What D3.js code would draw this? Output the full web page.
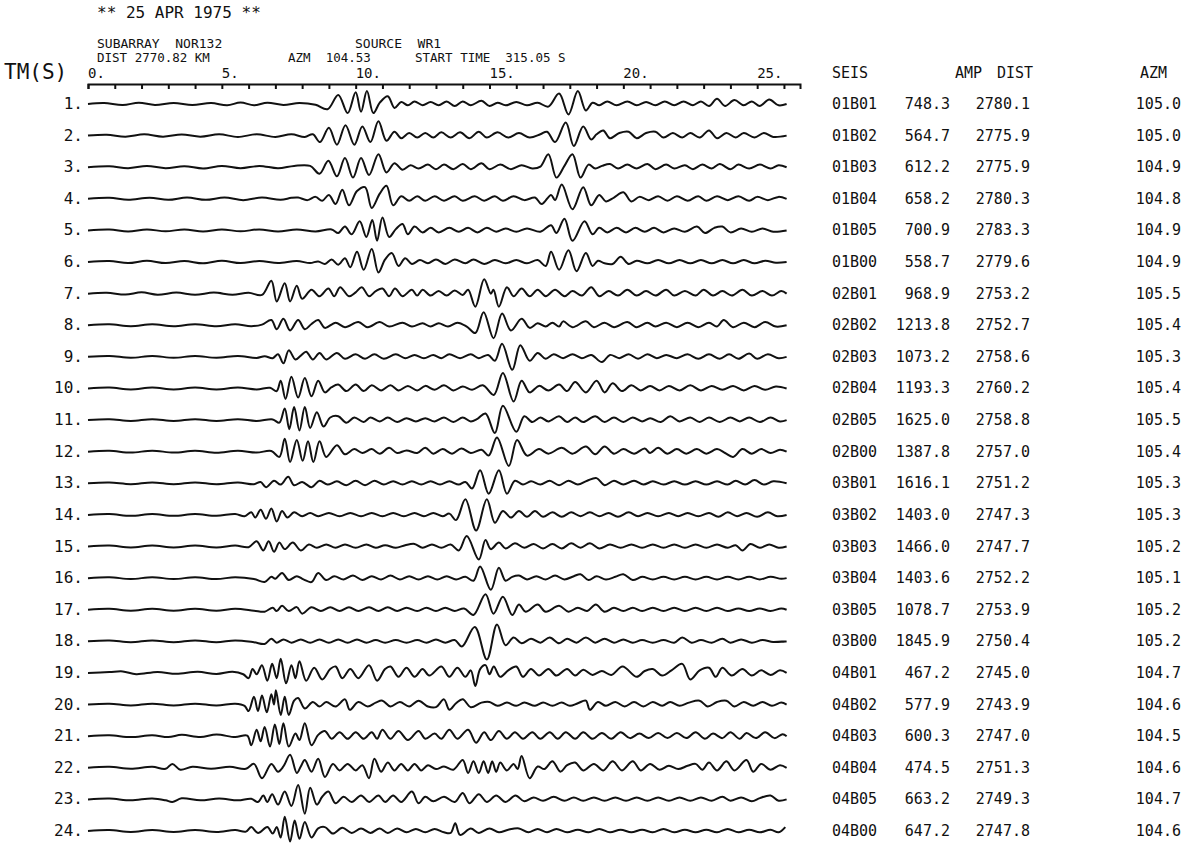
<!DOCTYPE html>
<html>
<head>
<meta charset="utf-8">
<script src="https://cdnjs.cloudflare.com/ajax/libs/d3/7.8.5/d3.min.js"></script>
<style>
  body { margin: 0; background: #fff; }
  text { font-family: "DejaVu Sans Mono", monospace; fill: #111; white-space: pre; }
</style>
</head>
<body>
<div id="chart"></div>
<script>
//table columns on the right
var stations = ["01B01","01B02","01B03","01B04","01B05","01B00",
  "02B01","02B02","02B03","02B04","02B05","02B00",
  "03B01","03B02","03B03","03B04","03B05","03B00",
  "04B01","04B02","04B03","04B04","04B05","04B00"];
var amps = [748.3,564.7,612.2,658.2,700.9,558.7,968.9,1213.8,1073.2,1193.3,1625.0,1387.8,
  1616.1,1403.0,1466.0,1403.6,1078.7,1845.9,467.2,577.9,600.3,474.5,663.2,647.2];
var dists = [2780.1,2775.9,2775.9,2780.3,2783.3,2779.6,2753.2,2752.7,2758.6,2760.2,2758.8,2757.0,
  2751.2,2747.3,2747.7,2752.2,2753.9,2750.4,2745.0,2743.9,2747.0,2751.3,2749.3,2747.8];
var azms = [105.0,105.0,104.9,104.8,104.9,104.9,105.5,105.4,105.3,105.4,105.5,105.4,
  105.3,105.3,105.2,105.1,105.2,105.2,104.7,104.6,104.5,104.6,104.7,104.6];

//time axis
var tickValues = [0, 5, 10, 15, 20, 25];
var tickLabels = ["0.", "5.", "10.", "15.", "20.", "25."];

//trace extrema: [time s, deflection]
var trace01 = [[0,0],[0.6,0.7],[1.3,-0.8],[1.9,1],[2.5,-0.7],[3.2,0.8],[3.9,-0.7],[4.6,0.8],[5.2,-1],[5.7,1.2],[6.2,-1],[6.7,1],[7.3,-0.7],[7.9,0.8],[8.5,-0.6],
  [8.95,-4],[9.35,7],[9.7,-7],[10.0,9],[10.2,-6],[10.42,10],[10.66,-7],[10.9,1],[11.2,6],[11.45,-3],[11.7,1.5],[11.95,-1],[12.2,2],[12.5,-1],
  [12.8,1.5],[13.1,-1],[13.4,2],[13.7,-1.5],[14.0,2],[14.3,-1],[14.7,2.5],[15.0,-1.5],[15.3,1],[15.6,-1],[16.0,1.5],[16.4,-1],[16.8,1],
  [17.2,-2],[17.6,8],[17.95,-8],[18.3,10],[18.6,-5],[18.85,1],[19.1,-1],[19.4,2],[19.75,-1],[20.15,2],[20.5,-1],[20.85,1.5],[21.2,-1],[21.55,2],[21.9,-1],[22.25,2],[22.6,-1],[22.9,2],[23.2,-1.5],[23.5,4],[23.8,-1.5],[24.15,3],[24.5,-1],[24.8,2],[25.1,-1.5],[25.45,3.5],[25.8,-1],[26.1,0]];
var trace02 = [[0,0],[0.7,0.7],[1.4,-0.8],[2.1,1],[2.8,-0.8],[3.5,0.8],[4.2,-0.8],[4.9,1],[5.6,-1],[6.3,1],[7.0,-1],[7.6,1],[8.1,-1],[8.4,1],
  [8.67,-5],[9.0,6],[9.3,-7],[9.62,8],[9.95,-7],[10.25,7],[10.55,-5],[10.85,11],[11.15,-4],[11.45,3],[11.7,-2],[12.0,2],[12.3,-1.5],
  [12.6,2],[12.9,-1.5],[13.2,2.5],[13.55,-1.5],[13.9,2.5],[14.25,-2],[14.6,3],[14.9,-1.5],[15.3,2.5],[15.7,-1.5],[16.1,2],[16.5,-1.5],[16.9,1],[17.15,3],[17.45,-5],[17.85,10],[18.15,-8],[18.5,7],[18.8,-3],[19.0,1],[19.25,4],[19.5,-2],[19.85,2],[20.2,3],[20.5,-2],[20.85,2],[21.2,3],[21.5,-1.5],[21.85,2],[22.2,-1.5],[22.5,2],[22.85,-1.5],[23.2,4],[23.5,-2],[23.85,2],[24.2,-1.5],[24.5,2],[24.9,-1.5],[25.25,2],[25.6,-1],[26.1,0]];
var trace03 = [[0,0],[0.8,0.7],[1.5,-0.8],[2.2,1],[2.9,-0.7],[3.6,0.8],[4.3,-1],[5.0,1],[5.7,-0.8],[6.4,1],[7.1,-0.8],[7.7,1],[8.3,1],
  [8.65,-5],[8.98,5],[9.3,-7],[9.6,7],[9.9,-8],[10.2,7],[10.5,-6],[10.85,10],[11.15,-4],[11.45,3],[11.75,-2],[12.05,1.5],[12.35,-1],
  [12.7,2],[13.0,-1.5],[13.3,2],[13.65,-1.5],[14.0,2.5],[14.3,-1.5],[14.7,3],[15.0,-1.5],[15.4,2],[15.8,-1.5],[16.2,1.5],[16.6,-1],[16.9,0.5],[17.2,10],[17.5,-8],[17.8,1],[18.1,10],[18.4,-8],[18.7,2],[18.95,-1],[19.2,1],[19.5,2.5],[19.8,-1],[20.15,2],[20.5,-1],[20.9,2.5],[21.2,-1.5],[21.6,2],[21.9,-1],[22.3,1.5],[22.6,-1.5],[22.95,2],[23.3,-1],[23.6,2.5],[24.0,-1.5],[24.3,2],[24.7,-1],[25.1,2],[25.5,-1],[25.8,1.5],[26.1,0]];
var trace04 = [[0,0],[0.8,0.8],[1.5,-0.8],[2.3,0.8],[3.0,-0.8],[3.7,1],[4.4,-0.8],[5.1,1],[5.8,-1],[6.5,1],[7.2,-0.8],[7.6,0.8],
  [7.85,1],[8.2,-1],[8.5,1.5],[8.75,-1.5],[9.0,3],[9.25,-4],[9.5,7],[9.75,-5],[10.05,6],[10.35,9],[10.6,-7],[10.9,4],[11.15,10],[11.4,-5],[11.7,2],[12.0,-1.5],[12.3,2],
  [12.6,-1.5],[12.95,2],[13.3,-1.5],[13.7,2],[14.0,-1.5],[14.45,2],[14.8,-1.5],[15.2,2],[15.5,-1.5],[15.9,2],[16.3,-1],[16.7,1],[16.95,-4],[17.3,3],[17.45,-1],[17.7,11],[18.1,-8],[18.5,9],[18.8,-5],[19.1,3],[19.35,-2],[19.65,1],[20.0,5],[20.3,-2],[20.6,1.5],[20.95,-1],[21.3,2],[21.65,-1.5],[22.0,2],[22.4,-1.5],[22.8,2],[23.1,-1.5],[23.5,2],[23.9,-1],[24.3,2],[24.7,-1.5],[25.0,1.5],[25.4,-1],[25.8,1.5],[26.1,0]];
var trace05 = [[0,0],[0.8,0.7],[1.5,-0.8],[2.2,0.8],[2.9,-0.7],[3.6,0.8],[4.3,-0.8],[5.0,0.8],[5.7,-0.7],[6.4,0.8],[7.1,-0.8],[7.8,0.8],[8.5,-0.8],[9.1,0.8],
  [9.35,-2],[9.6,3],[9.85,-3],[10.15,7],[10.4,-5],[10.62,8],[10.8,-8],[11.0,10],[11.25,-5],[11.5,1],[11.75,5],[11.95,-3],[12.2,3],[12.5,-1.5],
  [12.8,2],[13.1,-1.5],[13.5,2],[13.85,-1],[14.2,2],[14.55,-1.5],[14.9,2],[15.25,-1],[15.6,1.5],[16.0,-1],[16.4,1.5],[16.9,-1],[17.3,4],[17.5,-2],[17.8,9],[18.1,-8],[18.55,7],[18.85,-3],[19.1,2],[19.4,-1.5],[19.75,2],[20.1,-1.5],[20.45,2],[20.8,-1],[21.15,2],[21.5,-1.5],[21.9,1.5],[22.3,-1],[22.75,3],[23.05,-2],[23.4,2],[23.7,3],[24.0,-1.5],[24.4,1.5],[24.8,-1],[25.2,1.5],[25.6,-1],[26.1,0]];
var trace06 = [[0,0],[0.8,0.8],[1.5,-0.8],[2.2,1],[2.9,-0.8],[3.6,0.8],[4.3,-1],[5.0,1],[5.7,-0.8],[6.4,0.8],[7.1,-0.8],[7.8,0.8],[8.3,-0.8],
  [8.6,0.5],[8.85,-1.5],[9.1,2],[9.35,-2],[9.6,3],[9.8,-4],[10.05,8],[10.3,-6],[10.6,10],[10.85,-8],[11.1,2],[11.35,7],[11.6,-3],[11.85,3],[12.1,-1.5],[12.4,1.5],
  [12.7,-1],[13.0,2],[13.35,-1.5],[13.7,2],[14.1,-1],[14.4,2],[14.8,-1.5],[15.2,1.5],[15.6,-1],[16.0,1.5],[16.4,-1],[16.8,1.5],[17.1,-3],[17.3,8],[17.6,-6],[17.95,9],[18.25,-7],[18.6,7],[18.85,-3],[19.05,1],[19.3,-1],[19.6,-1.5],[19.9,4],[20.2,-1.5],[20.5,1],[20.9,-1],[21.3,1.5],[21.7,-1],[22.1,1.5],[22.5,-1],[22.9,1.5],[23.3,-1],[23.7,1.5],[24.1,-1],[24.5,1.5],[24.9,-1],[25.3,1],[25.7,-0.5],[26.1,0]];
var trace07 = [[0,0],[0.7,0.7],[1.4,-0.7],[2.0,1],[2.6,-0.8],[3.3,0.8],[4.0,-0.8],[4.7,0.8],[5.4,-0.8],[6.0,0.7],[6.5,-1],
  [6.85,10],[7.05,-6],[7.35,8],[7.55,-6],[7.8,6],[8.0,-4],[8.35,3],[8.65,-2],[8.98,4],[9.2,-2],[9.42,5],[9.75,-2],[10.0,1],[10.23,5],[10.5,-2],[10.75,2],[11.0,4],[11.25,-2],[11.47,4],[11.75,-2],[12.1,3],[12.3,-1.5],[12.5,3],
  [12.8,-1.5],[13.1,2],[13.4,-1.5],[13.7,2.5],[14.0,-1],[14.2,3],[14.47,-10],[14.8,11],[15.05,0],[15.15,3],[15.35,-10],[15.65,5],[15.9,-2],[16.2,4],[16.5,-2],[16.8,3],[17.1,-2],[17.45,3],[17.8,-2],[18.1,2],[18.45,-1.5],[18.8,5],[19.1,-2],[19.45,2],[19.8,-1.5],[20.15,3],[20.5,-1.5],[20.85,2],[21.2,-1.5],[21.6,3],[21.9,-1.5],[22.3,2],[22.7,-1.5],[23.0,3],[23.35,-1.5],[23.7,2],[24.05,-1.5],[24.45,3],[24.8,-1.5],[25.2,2],[25.55,-1.5],[25.9,2],[26.1,0]];
var trace08 = [[0,0],[0.8,0.7],[1.6,-0.7],[2.4,0.7],[3.2,-0.7],[4.0,0.8],[4.8,-0.7],[5.5,0.7],[6.1,-0.7],[6.5,0.5],
  [6.85,4],[7.05,-3],[7.3,5],[7.55,-4],[7.85,4],[8.1,-3],[8.35,1],[8.6,4],[8.85,-2],[9.25,2],[9.6,-1.5],[10.1,2.5],[10.45,-1.5],[10.9,2.5],[11.25,-1],[11.75,2],[12.1,-1],[12.5,1.5],
  [12.8,-1],[13.1,1.5],[13.45,-1],[13.8,2],[14.15,-1],[14.47,-6],[14.78,10],[15.15,-10],[15.47,9],[15.8,-4],[16.2,5],[16.5,-2],[16.8,1.5],[17.1,-1],[17.35,2],[17.6,-1],[17.75,3],[18.1,-1.5],[18.6,3],[18.9,-1.5],[19.3,2],[19.65,-1.5],[20.15,2.5],[20.5,-1.5],[20.9,2],[21.2,-1],[21.6,2],[22.0,-1.5],[22.4,2],[22.8,-1.5],[23.2,2],[23.5,-1],[23.75,4],[24.1,-1.5],[24.5,2],[24.9,-1.5],[25.3,2.5],[25.7,-1],[26.1,0]];
var trace09 = [[0,0],[0.8,0.7],[1.6,-0.7],[2.4,0.7],[3.2,-0.7],[4.0,0.7],[4.8,-0.7],[5.6,0.7],[6.3,-0.8],[6.6,0.5],
  [6.9,-1],[7.1,2],[7.3,-5],[7.5,5],[7.75,-2],[7.95,1],[8.15,4],[8.4,-2],[8.65,3],[8.9,-2],[9.3,3],[9.6,-1.5],[10.0,2],[10.35,-1.5],[10.7,2],[11.05,-1.5],[11.5,2],[11.85,-1],[12.2,1.5],
  [12.55,-1],[12.9,1.5],[13.2,-1],[13.5,2],[13.9,-1],[14.3,2],[14.6,-1],[14.95,1.5],[15.2,-3],[15.47,10],[15.85,-10],[16.15,9],[16.5,-3],[16.8,3],[17.1,-1.5],[17.4,2],[17.75,-1],[18.1,2],[18.45,-1],[18.8,1.5],[19.2,-4],[19.5,1.5],[19.85,-1],[20.2,2],[20.55,-1.5],[20.9,2],[21.25,-1],[21.6,1.5],[22.0,-1],[22.4,2],[22.8,-1.5],[23.2,2],[23.6,-1.5],[23.95,2],[24.3,-1.5],[24.7,2.5],[25.0,-1.5],[25.4,2],[25.8,-1],[26.1,0]];
var trace10 = [[0,0],[0.8,0.7],[1.6,-0.7],[2.4,0.7],[3.2,-0.7],[4.0,0.7],[4.8,-0.7],[5.6,0.7],[6.3,-0.7],[6.8,0.5],
  [7.05,-2],[7.2,6],[7.38,-8],[7.6,9],[7.85,-7],[8.1,8],[8.35,-6],[8.6,6],[8.85,-3],[9.1,1],[9.35,3],[9.65,-2],[10.0,3],[10.3,-2],[10.6,2.5],[10.95,-1.5],[11.3,2.5],[11.6,-1.5],[11.95,2],[12.3,-1.5],
  [12.6,2],[12.95,-1],[13.3,2.5],[13.65,-1.5],[14.0,1.5],[14.35,-1],[14.75,2.5],[15.16,-5],[15.5,12],[15.9,-10],[16.2,6],[16.5,-3],[16.85,2],[17.2,-1.5],[17.6,3],[17.9,-2],[18.2,5],[18.6,-3],[19.0,6],[19.3,-3],[19.6,4],[19.95,-2],[20.3,2.5],[20.65,-1.5],[21.0,2],[21.35,-1.5],[21.7,2],[22.1,-1.5],[22.5,2.5],[22.9,-1.5],[23.3,2],[23.7,-1],[24.1,2],[24.5,-1.5],[24.9,2],[25.3,-1],[25.7,1.5],[26.1,0]];
var trace11 = [[0,0],[0.8,0.7],[1.6,-0.7],[2.4,0.7],[3.2,-0.7],[4.0,0.7],[4.8,-0.7],[5.6,0.7],[6.3,-0.7],[6.9,0.5],
  [7.15,-2],[7.35,9],[7.52,-7],[7.7,10],[7.9,-8],[8.1,10],[8.3,-6],[8.55,6],[8.8,-5],[9.05,2],[9.35,3],[9.65,-2],[9.95,2],[10.3,-1.5],[10.55,2],[10.9,-1],[11.2,2],[11.55,-1.5],[11.9,1.5],[12.25,-1],
  [12.6,1.5],[12.95,-1],[13.3,2],[13.65,-1.5],[14.0,2],[14.3,-1],[14.55,1],[14.85,5],[15.2,-10],[15.5,11],[16.0,-9],[16.3,3],[16.6,-1.5],[16.9,2],[17.2,-1],[17.6,3],[17.9,-1.5],[18.2,2],[18.5,-1.5],[18.95,3],[19.3,-1.5],[19.65,2],[20.0,-1.5],[20.35,2],[20.7,-1],[21.0,1.5],[21.4,-1.5],[21.75,3],[22.1,-1],[22.5,2],[22.85,-1.5],[23.2,2],[23.6,-1.5],[24.0,2],[24.35,-1],[24.7,2],[25.1,-1.5],[25.5,2],[25.85,-1],[26.1,0]];
var trace12 = [[0,0],[0.8,0.7],[1.6,-0.7],[2.4,0.8],[3.2,-0.7],[4.0,0.7],[4.8,-0.8],[5.6,0.7],[6.3,-0.7],[6.85,0.5],
  [7.15,-4],[7.35,10],[7.55,-8],[7.8,9],[8.02,-7],[8.22,8],[8.42,-8],[8.65,8],[8.9,-4],[9.3,5],[9.6,-2],[9.95,2],[10.25,-1],[10.6,2],[10.9,-1.5],[11.25,3],[11.55,-1],[11.9,1],[12.3,-1],[12.6,3],
  [12.9,-1.5],[13.25,2],[13.6,-1.5],[13.95,2.5],[14.3,-1],[14.7,1.5],[14.97,-3],[15.28,11],[15.72,-11],[16.03,9],[16.4,-3],[16.85,2],[17.2,-1.5],[17.7,3],[18.1,-1.5],[18.6,4],[18.95,-2],[19.3,4],[19.65,-1.5],[20.0,2],[20.4,-1.5],[20.8,2.5],[21.0,-1],[21.3,3],[21.65,-1.5],[22.0,2],[22.35,-1.5],[22.75,2],[23.1,-1.5],[23.5,2],[23.8,-1],[24.1,-4],[24.45,2],[24.8,-1.5],[25.15,2],[25.5,-1],[25.85,1.5],[26.1,0]];
var trace13 = [[0,0],[0.8,0.6],[1.6,-0.7],[2.4,0.7],[3.2,-0.7],[4.0,0.7],[4.8,-0.7],[5.6,0.7],[6.2,-0.7],
  [6.45,1],[6.65,-3],[6.95,2],[7.2,-1],[7.48,5],[7.7,-1.5],[8.0,1],[8.35,-3],[8.65,2],[8.95,-1],[9.3,1.5],[9.65,-1.5],[10.0,2],[10.35,-1.5],[10.7,2],[11.05,-1],[11.4,1.5],[11.75,-1],[12.1,1.5],[12.45,-1],
  [12.8,1.5],[13.15,-1],[13.5,1.5],[13.85,-1],[14.1,1],[14.35,-4],[14.65,10],[14.97,-8],[15.35,10],[15.65,-8],[15.95,2],[16.25,-1],[16.55,1.5],[16.9,-1],[17.25,2],[17.6,-1.5],[17.95,2],[18.3,-1],[18.65,2],[19.0,4],[19.3,-1.5],[19.65,2],[20.0,-1],[20.4,2],[20.75,-1],[21.1,1.5],[21.5,-1],[21.9,1.5],[22.3,-1],[22.7,1.5],[23.1,-1],[23.5,1.5],[23.9,-1],[24.2,2],[24.55,-1],[24.9,2.5],[25.25,-1],[25.6,1.5],[26.1,0]];
var trace14 = [[0,0],[0.8,0.7],[1.6,-0.7],[2.4,0.7],[3.2,-0.7],[4.0,0.7],[4.8,-0.7],[5.5,0.7],
  [5.85,-1],[6.1,2],[6.25,-2],[6.45,4],[6.65,-3],[6.85,5],[7.05,-5],[7.25,3],[7.45,-2],[7.7,2],[8.0,-1],[8.3,1.5],[8.6,-1],[9.0,1.5],[9.4,-1],[9.8,1.5],[10.2,-1],[10.6,1.5],[11.0,-1],[11.4,1.5],[11.8,-1],[12.2,1.5],
  [12.55,-1],[12.9,1.5],[13.25,-1],[13.5,1],[13.75,-4],[14.1,12],[14.5,-12],[14.9,12],[15.2,-6],[15.5,3],[15.8,-2],[16.1,3],[16.4,-1.5],[16.7,3],[17.0,-1.5],[17.35,2],[17.7,-1.5],[18.05,2],[18.4,-1],[18.75,2],[19.1,-1],[19.45,1.5],[19.8,-1.5],[20.2,2],[20.55,-1],[20.9,1.5],[21.3,-1],[21.7,1.5],[22.05,-1],[22.4,1.5],[22.8,-1],[23.2,1.5],[23.55,-1.5],[23.9,2],[24.25,-1],[24.6,1.5],[25.0,-1.5],[25.4,2],[25.75,-1],[26.1,0]];
var trace15 = [[0,0],[0.8,0.7],[1.6,-0.7],[2.4,0.7],[3.2,-0.7],[4.0,0.7],[4.8,-0.7],[5.5,0.7],
  [6.0,-0.5],[6.3,4],[6.55,-3],[6.75,4],[6.95,-4],[7.15,3],[7.35,-2],[7.65,3],[7.95,-3],[8.25,1.5],[8.55,-1],[8.9,1.5],[9.25,-1],[9.6,1.5],[10.0,-1],[10.4,1.5],[10.75,-1],[11.1,1],[11.5,-1],[11.85,1],[12.2,2],
  [12.5,-1],[12.85,1.5],[13.2,-1],[13.55,1.5],[13.85,-3],[14.15,8],[14.6,-10],[14.85,5],[15.05,-2],[15.35,3],[15.6,-1.5],[15.95,2.5],[16.3,-1],[16.65,2],[17.0,-1.5],[17.35,2],[17.7,-1.5],[18.05,2.5],[18.4,-1],[18.75,2.5],[19.1,-1.5],[19.5,1.5],[19.9,-1],[20.3,1.5],[20.7,-1],[21.1,1.5],[21.5,-1],[21.9,1.5],[22.3,-1],[22.7,1.5],[23.1,-1],[23.5,1.5],[23.9,-1],[24.2,1],[24.45,-3],[24.75,2],[25.1,-1],[25.45,1.5],[25.8,-1],[26.1,0]];
var trace16 = [[0,0],[0.8,0.7],[1.6,-0.7],[2.4,0.7],[3.2,-0.7],[4.0,0.7],[4.8,-0.7],[5.5,0.7],[6.2,-0.7],
  [6.6,-3],[6.85,1],[7.0,-0.5],[7.25,4],[7.5,-1.5],[7.8,1.5],[8.05,-1],[8.35,-3],[8.6,4],[8.9,-1.5],[9.2,1.5],[9.55,-1],[9.9,2],[10.25,-1.5],[10.6,1.5],[10.95,-1],[11.3,2],[11.65,-1],[12.0,1.5],[12.35,-1],
  [12.7,1.5],[13.05,-1],[13.4,1.5],[13.75,-1],[14.1,1],[14.4,-2],[14.65,9],[15.05,-9],[15.35,8],[15.6,-2],[15.85,1],[16.1,2],[16.4,-1],[16.75,1.5],[17.1,-1],[17.45,2],[17.8,-1],[18.15,1.5],[18.4,3],[18.7,-1.5],[19.0,1.5],[19.35,-1],[19.7,1],[20.0,3],[20.35,-1.5],[20.7,1],[21.1,-1],[21.5,1],[21.9,-1],[22.3,1],[22.7,-1],[23.1,1],[23.5,-1],[23.9,1],[24.3,-1],[24.7,1],[25.1,-1],[25.5,1],[25.9,-0.5],[26.1,0]];
var trace17 = [[0,0],[0.8,0.7],[1.6,-0.7],[2.4,0.7],[3.2,-0.7],[4.0,0.7],[4.8,-0.7],[5.5,0.7],[6.2,-0.7],
  [6.6,-1.5],[6.9,1.5],[7.05,-1],[7.25,3],[7.5,-1],[7.8,2],[8.0,-3],[8.35,2],[8.7,-1],[9.05,2],[9.4,-1],[9.75,2],[10.1,-1],[10.5,2],[10.85,-1],[11.2,2],[11.55,-1],[11.9,1.5],[12.3,-1],
  [12.65,1.5],[13.0,-1],[13.35,1.5],[13.7,-1],[14.05,1],[14.4,-4],[14.85,12],[15.15,-3],[15.5,10],[15.85,-4],[16.1,4],[16.35,-1.5],[16.8,4],[17.1,-1.5],[17.6,3],[17.95,-1.5],[18.3,1.5],[18.65,-1],[18.97,4],[19.3,-1.5],[19.65,1.5],[20.0,-1],[20.35,1.5],[20.7,-1],[21.1,1.5],[21.5,-1],[21.9,1.5],[22.3,-1],[22.7,1.5],[23.1,-1],[23.5,1.5],[23.9,-1],[24.3,1],[24.7,-1],[25.1,1],[25.5,-1],[25.9,1],[26.1,0]];
var trace18 = [[0,0],[0.8,0.7],[1.6,-0.7],[2.4,0.7],[3.2,-0.7],[4.0,0.7],[4.8,-0.7],[5.5,0.7],[6.2,-0.7],
  [6.6,-2],[6.85,2],[7.05,-1],[7.3,1.5],[7.6,-1],[7.95,1.5],[8.3,-1],[8.65,1.5],[9.0,-1],[9.35,1.5],[9.7,-1],[10.05,1.5],[10.4,-1],[10.75,1],[11.1,-1],[11.5,1],[11.9,-1],[12.3,1],
  [12.65,-1],[13.0,1.5],[13.35,-1],[13.7,1],[13.97,-4],[14.45,11],[14.9,-14],[15.28,13],[15.6,-3],[15.9,3],[16.2,-1.5],[16.55,2],[16.9,-1],[17.25,3],[17.6,-1.5],[17.9,2],[18.25,-1],[18.6,3],[18.95,-1],[19.3,2],[19.65,-1],[20.0,1.5],[20.35,-1],[20.7,1],[21.1,-1],[21.5,1],[21.9,-1],[22.2,3],[22.55,-1],[22.9,1],[23.3,-1],[23.7,2],[24.0,-1],[24.4,1.5],[24.8,-1],[25.2,1],[25.6,-0.5],[26.1,0]];
var trace19 = [[0,0],[0.8,0.7],[1.3,1.2],[1.8,-0.9],[2.6,0.8],[3.3,-0.7],[4.1,0.9],[4.8,-0.8],[5.4,0.9],[5.8,-1],
  [6.0,-4],[6.15,3],[6.3,-1],[6.5,6],[6.7,-6],[6.88,7],[7.05,-4],[7.2,11],[7.4,-8],[7.6,6],[7.75,-4],[7.9,9],[8.15,-6],[8.45,4],[8.75,-5],[9.05,3],[9.25,5],[9.5,-4],[9.8,3],[10.1,-4],[10.5,6],[10.8,-6],[11.1,3],[11.3,5],[11.6,-3],[11.9,4],[12.2,-3],[12.5,3],
  [12.75,-2],[13.2,5],[13.5,-3],[13.8,4],[14.1,-3],[14.3,2],[14.47,-10],[14.65,3],[14.85,6],[15.0,-1],[15.16,5],[15.4,-3],[15.7,2],[16.0,5],[16.25,-3],[16.55,3],[16.85,-2],[17.2,3],[17.5,-2],[17.9,3],[18.2,-2],[18.5,2.5],[18.85,-1.5],[19.2,1.5],[19.55,-1.5],[19.97,5],[20.5,-3],[20.8,1.5],[21.1,3],[21.45,-2],[21.8,2],[22.2,7],[22.5,-5],[22.85,2],[23.2,4],[23.45,-3],[23.7,4],[24.05,-2],[24.45,3],[24.8,-2],[25.15,2],[25.5,-1.5],[25.85,2],[26.1,0]];
var trace20 = [[0,0],[0.8,0.7],[1.6,-0.7],[2.4,0.7],[3.2,-0.7],[4.0,0.7],[4.8,-0.7],[5.5,0.7],
  [5.85,-1],[6.0,-5],[6.2,6],[6.35,-5],[6.5,7],[6.68,-6],[6.85,8],[6.95,0],[7.02,11],[7.2,-8],[7.35,6],[7.5,-8],[7.7,3],[7.85,5],[8.1,-3],[8.4,2],[8.65,-1.5],[8.9,2],[9.25,-1.5],[9.6,4],[9.78,-4],[10.1,2],[10.45,-1.5],[10.75,1.5],[11.0,3],[11.3,-1.5],[11.65,2],[12.0,-1.5],[12.35,3],
  [12.7,-1.5],[13.0,-2],[13.3,4],[13.5,-4],[13.75,1],[14.0,4],[14.3,-2],[14.7,1.5],[15.0,2],[15.3,-1],[15.65,1.5],[16.0,-1],[16.3,1.5],[16.7,-1],[17.0,1.5],[17.35,-1],[17.7,1.5],[18.0,-1],[18.3,1],[18.6,3],[18.75,-4],[19.05,2],[19.35,-1],[19.7,2],[20.05,-1.5],[20.4,2],[20.75,-1.5],[21.1,2],[21.45,-1],[21.75,2],[22.1,-1],[22.45,1.5],[22.85,3],[23.15,-1.5],[23.5,2],[23.85,3],[24.15,-1.5],[24.5,2],[24.85,-1],[25.2,2],[25.55,-1],[25.9,1.5],[26.1,0]];
var trace21 = [[0,0],[0.8,0.7],[1.6,-0.7],[2.4,0.7],[3.0,-0.7],[3.5,1],[4.2,-0.7],[4.8,1.2],[5.5,-0.7],[5.95,0.5],
  [6.1,-7],[6.3,5],[6.45,-4],[6.6,7],[6.8,-8],[6.98,9],[7.15,-6],[7.3,10],[7.5,-8],[7.75,2],[7.9,-3],[8.1,10],[8.35,-7],[8.6,1],[8.85,4],[9.1,-2],[9.4,3],[9.7,-2],[10.0,3],[10.3,-2],[10.6,3],[10.8,-2],[11.0,5],[11.3,-2],[11.6,4],[11.95,-3],[12.35,4],
  [12.6,-2],[12.95,2],[13.2,-2],[13.5,5],[13.8,-2],[14.2,5],[14.5,-5],[14.8,3],[15.05,-3],[15.35,4],[15.65,-2],[15.95,3],[16.25,-2],[16.6,3],[16.9,-2],[17.25,3],[17.55,-2],[17.85,3],[18.2,-2],[18.5,3],[18.85,-2],[19.2,2.5],[19.55,-2],[19.9,3],[20.25,-1.5],[20.6,2],[20.95,-1.5],[21.3,2.5],[21.65,-1.5],[22.0,2.5],[22.35,-1.5],[22.7,3],[23.05,-2],[23.35,2],[23.7,-1.5],[24.0,3],[24.35,-2],[24.6,2.5],[24.95,-1.5],[25.3,3],[25.65,-1.5],[25.95,1.5],[26.1,0]];
var trace22 = [[0,0],[0.8,0.7],[1.6,-0.7],[2.4,0.7],[2.9,-0.8],[3.15,3],[3.45,-1.5],[3.9,0.8],[4.6,-0.7],[5.3,0.8],[5.9,-0.8],
  [6.2,3],[6.5,-8],[6.85,3],[7.1,-3],[7.3,1],[7.55,10],[7.8,-4],[7.95,1],[8.1,6],[8.35,-3],[8.6,7],[8.85,-7],[9.15,3],[9.4,-2],[9.7,3],[10.0,-2],[10.25,2],[10.5,-8],[10.7,7],[10.95,-3],[11.2,4],[11.45,-2],[11.7,3],[11.95,-2],[12.2,3],[12.45,-2],
  [12.7,2],[13.0,-1],[13.3,1],[13.65,-1.5],[14.0,6],[14.2,-4],[14.4,5],[14.6,-4],[14.78,5],[14.95,-4],[15.1,5],[15.25,-3],[15.4,4],[15.65,-2],[15.9,3],[16.05,-1],[16.2,9],[16.5,-8],[16.8,1],[17.05,-1],[17.35,5],[17.65,-3],[17.9,2],[18.2,4],[18.5,-2],[18.9,3],[19.25,-2],[19.6,5],[19.95,-2],[20.35,5],[20.65,-2],[21.0,3],[21.35,-1.5],[21.7,1.5],[22.05,-1],[22.4,1.5],[22.7,3],[22.95,-1.5],[23.2,4],[23.5,-2],[23.85,5],[24.15,-2],[24.6,6],[24.85,-3],[25.15,3],[25.5,-1.5],[25.85,2],[26.1,0]];
var trace23 = [[0,0],[0.8,0.7],[1.6,-0.7],[2.4,0.7],[2.9,-0.7],[3.15,-2],[3.5,0.8],[4.2,-0.7],[4.9,0.7],[5.6,-0.7],[6.1,0.5],
  [6.35,-2],[6.55,3],[6.7,-2],[6.88,4],[7.1,-4],[7.35,6],[7.6,-5],[7.85,11],[8.1,-11],[8.3,9],[8.55,-4],[8.75,2],[8.98,6],[9.25,-3],[9.55,2],[9.85,-2],[10.2,3],[10.5,-2],[10.85,3],[11.1,-2],[11.4,3],[11.7,-2],[12.1,6],[12.35,-3],
  [12.6,2],[12.9,-1.5],[13.3,2],[13.7,-2],[14.0,5],[14.25,-3],[14.6,4],[14.9,-2],[15.25,3],[15.6,-2],[15.97,3],[16.3,-1.5],[16.65,1.5],[17.0,-1],[17.4,2],[17.8,-1],[18.15,1.5],[18.5,-1],[18.9,1.5],[19.3,-1],[19.7,1.5],[20.1,-1],[20.5,1.5],[20.9,-1],[21.3,1.5],[21.7,-1],[22.1,1.5],[22.5,-1],[22.9,1.5],[23.3,-1],[23.7,2],[24.0,-1],[24.4,1.5],[24.8,-1.5],[25.1,1],[25.5,3],[25.8,-1],[26.1,0]];
var trace24 = [[0,0],[0.8,0.7],[1.6,-0.7],[2.4,0.7],[3.2,-0.7],[4.0,0.7],[4.8,-0.7],[5.5,0.7],[5.9,-0.5],
  [6.1,3],[6.35,-1.5],[6.7,3],[6.9,-2],[7.05,3],[7.2,-5],[7.35,11],[7.55,-8],[7.72,8],[7.9,-6],[8.1,7],[8.35,-5],[8.6,2],[8.85,3],[9.15,-2],[9.5,2.5],[9.85,-1.5],[10.2,2],[10.55,-1.5],[10.9,2],[11.2,-1.5],[11.55,2],[11.9,-1],[12.25,1.5],
  [12.6,-1],[12.95,1.5],[13.3,-1],[13.55,-1.5],[13.72,6],[13.9,-3],[14.3,2],[14.6,-1.5],[15.0,2],[15.35,-1],[15.7,1],[16.1,2],[16.45,-1],[16.8,1.5],[17.15,-1],[17.5,1.5],[17.9,-1],[18.3,1],[18.7,-1],[19.1,1.5],[19.5,-1],[19.9,1],[20.3,-1],[20.7,1],[21.1,-1],[21.5,1.5],[21.9,-1],[22.3,1],[22.7,-1],[23.1,1],[23.5,-1],[23.9,1.5],[24.3,-1],[24.7,1],[25.1,-1],[25.5,1],[25.8,-1],[26.05,3]];

var traces = [trace01,trace02,trace03,trace04,trace05,trace06,trace07,trace08,trace09,trace10,trace11,trace12,
  trace13,trace14,trace15,trace16,trace17,trace18,trace19,trace20,trace21,trace22,trace23,trace24];

var width = 1186, height = 847;
var svg = d3.select("#chart").append("svg")
  .attr("width", width)
  .attr("height", height);

//scales
var x = d3.scaleLinear().domain([0, 26.6]).range([88, 800]);
var rowY = d3.scaleLinear().domain([1, 24]).range([104, 831]);
var defl = d3.scaleLinear().domain([-10, 10]).range([13, -13]);
var axisY = 84;

//header lines
svg.append("text").text("** 25 APR 1975 **")
  .attr("x", 97).attr("y", 18)
  .style("font-size", "16px");
svg.append("text").text("SUBARRAY  NOR132")
  .attr("x", 97).attr("y", 48).style("font-size", "13px");
svg.append("text").text("SOURCE  WR1")
  .attr("x", 355).attr("y", 48).style("font-size", "13px");
svg.append("text").text("DIST 2770.82 KM")
  .attr("x", 97).attr("y", 62).style("font-size", "12.5px");
svg.append("text").text("AZM  104.53")
  .attr("x", 288).attr("y", 62).style("font-size", "12.5px");
svg.append("text").text("START TIME  315.05 S")
  .attr("x", 415).attr("y", 62).style("font-size", "12.5px");
svg.append("text").text("TM(S)")
  .attr("x", 4).attr("y", 79).style("font-size", "21px");

//time axis along the top
var axis = d3.axisBottom(x)
  .tickValues(d3.range(0, 27))
  .tickSize(5)
  .tickSizeOuter(5)
  .tickFormat("");
var gAxis = svg.append("g")
  .attr("transform", "translate(0," + axisY + ")")
  .call(axis);
gAxis.select(".domain").attr("stroke", "#111").attr("stroke-width", 2);
gAxis.selectAll(".tick line").attr("stroke", "#111").attr("stroke-width", 2);

svg.selectAll(".tlabel")
  .data(tickValues)
  .enter().append("text")
  .attr("class", "tlabel")
  .text(function(d, i) { return tickLabels[i]; })
  .attr("x", function(d) { return x(d); })
  .attr("y", 78)
  .style("font-size", "14px");

//row numbers
svg.selectAll(".rlabel")
  .data(traces)
  .enter().append("text")
  .attr("class", "rlabel")
  .text(function(d, i) { return (i + 1) + "."; })
  .attr("x", 83)
  .attr("y", function(d, i) { return rowY(i + 1) + 5; })
  .style("text-anchor", "end")
  .style("font-size", "16px");

//the seismograms
var line = d3.line()
  .x(function(d) { return x(d[0]); })
  .y(function(d) { return defl(d[1]); })
  .curve(d3.curveCatmullRom.alpha(0.5));

svg.selectAll(".trace")
  .data(traces)
  .enter().append("path")
  .attr("class", "trace")
  .attr("transform", function(d, i) { return "translate(0," + rowY(i + 1) + ")"; })
  .attr("d", line)
  .attr("fill", "none")
  .attr("stroke", "#111")
  .attr("stroke-width", 2)
  .attr("stroke-linejoin", "round");

//table on the right
var fmt = d3.format(".1f");
var headY = rowY(1) - 31 + 5;
svg.append("text").text("SEIS").attr("x", 832).attr("y", headY).style("font-size", "15px");
svg.append("text").text("AMP").attr("x", 955).attr("y", headY).style("font-size", "15px");
svg.append("text").text("DIST").attr("x", 997).attr("y", headY).style("font-size", "15px");
svg.append("text").text("AZM").attr("x", 1140).attr("y", headY).style("font-size", "15px");

var rows = svg.selectAll(".trow")
  .data(stations)
  .enter().append("g")
  .attr("class", "trow")
  .attr("transform", function(d, i) { return "translate(0," + (rowY(i + 1) + 5) + ")"; });
rows.append("text").text(function(d) { return d; })
  .attr("x", 832).style("font-size", "15px");
rows.append("text").text(function(d, i) { return fmt(amps[i]); })
  .attr("x", 950).style("text-anchor", "end").style("font-size", "15px");
rows.append("text").text(function(d, i) { return fmt(dists[i]); })
  .attr("x", 1030).style("text-anchor", "end").style("font-size", "15px");
rows.append("text").text(function(d, i) { return fmt(azms[i]); })
  .attr("x", 1181).style("text-anchor", "end").style("font-size", "15px");
</script>
</body>
</html>
